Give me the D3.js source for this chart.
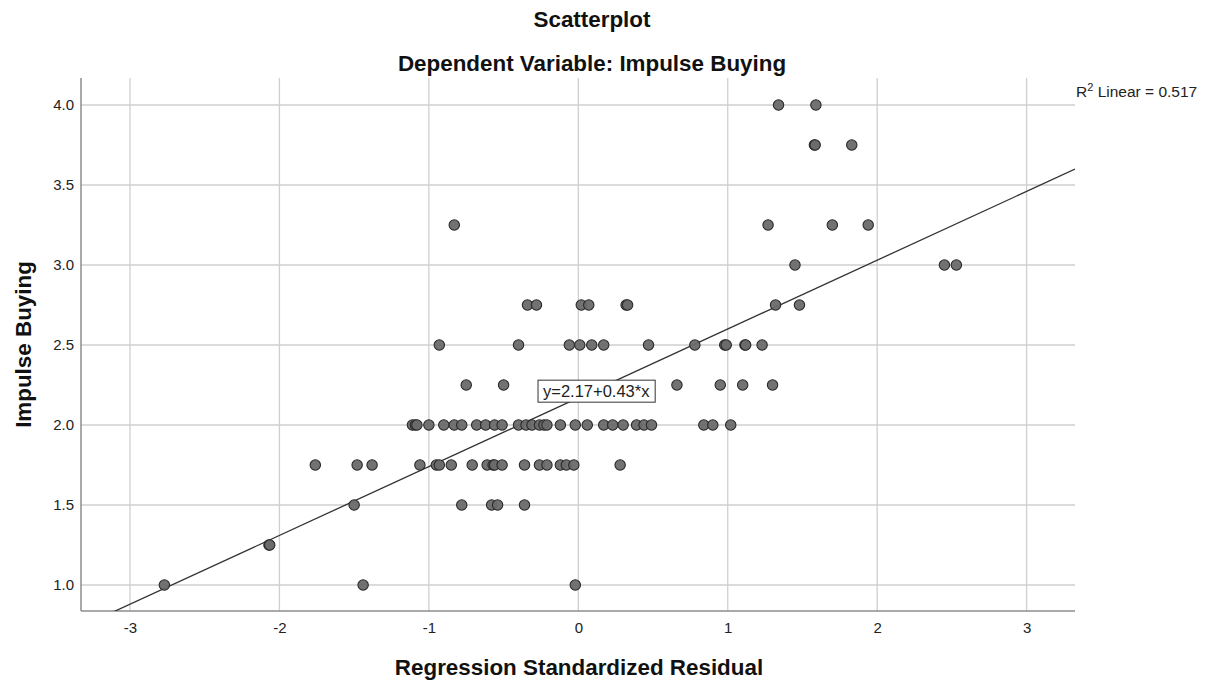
<!DOCTYPE html>
<html>
<head>
<meta charset="utf-8">
<script src="https://cdn.jsdelivr.net/npm/d3@7"></script>
<style>
  html, body { margin: 0; padding: 0; background: #fff; }
  svg { display: block; font-family: 'Liberation Sans', Arial, sans-serif; }
</style>
</head>
<body>
<svg id="chart" width="1207" height="686"></svg>
<script>
const impulseLevels = [4.0, 3.75, 3.25, 3.0, 2.75, 2.5, 2.25, 2.0, 1.75, 1.5, 1.25, 1.0];
const residualsAtLevel = [
  [1.34, 1.59],
  [1.58, 1.585, 1.83],
  [-0.83, 1.27, 1.70, 1.94],
  [1.45, 2.45, 2.53],
  [-0.34, -0.28, 0.02, 0.07, 0.32, 0.33, 1.32, 1.48],
  [-0.93, -0.40, -0.06, 0.01, 0.09, 0.17, 0.47, 0.78, 0.98, 0.99, 1.115, 1.12, 1.23],
  [-0.75, -0.50, 0.66, 0.95, 1.10, 1.30],
  [-1.11, -1.09, -1.08, -1.00, -0.90, -0.83, -0.78, -0.68, -0.62, -0.56, -0.51,
   -0.40, -0.35, -0.31, -0.26, -0.23, -0.21, -0.12, -0.02, 0.06, 0.17, 0.23, 0.30,
   0.39, 0.44, 0.49, 0.84, 0.90, 1.02],
  [-1.76, -1.48, -1.38, -1.06, -0.95, -0.93, -0.85, -0.71, -0.61, -0.57, -0.56,
   -0.51, -0.36, -0.26, -0.21, -0.12, -0.08, -0.03, 0.28],
  [-1.50, -0.78, -0.58, -0.54, -0.36],
  [-2.07, -2.065],
  [-2.77, -1.44, -0.02]
];
const xTicks = [-3, -2, -1, 0, 1, 2, 3];
const yTicks = [1.0, 1.5, 2.0, 2.5, 3.0, 3.5, 4.0];
const fitIntercept = 2.17;
const fitSlope = 0.43;
const fitR2 = 0.517;

const points = impulseLevels.flatMap((lvl, i) =>
  residualsAtLevel[i].map(r => ({ residual: r, impulse: lvl })));

const plot = { left: 81, right: 1075, top: 78, bottom: 611 };

const svg = d3.select('#chart');

const x = d3.scaleLinear().domain([-3, 3]).range([130, 1026.6]);
const y = d3.scaleLinear().domain([1, 4]).range([585, 105]);

svg.append('defs').append('clipPath').attr('id', 'plotClip')
  .append('rect')
  .attr('x', plot.left).attr('y', plot.top)
  .attr('width', plot.right - plot.left).attr('height', plot.bottom - plot.top);

// grid
const grid = svg.append('g');
grid.selectAll('.vgrid').data(xTicks).join('line')
  .attr('class', 'vgrid')
  .attr('x1', d => x(d)).attr('x2', d => x(d))
  .attr('y1', plot.top).attr('y2', plot.bottom)
  .attr('stroke', '#cfcfcf').attr('stroke-width', 1.3);
grid.selectAll('.hgrid').data(yTicks).join('line')
  .attr('class', 'hgrid')
  .attr('x1', plot.left).attr('x2', plot.right)
  .attr('y1', d => y(d)).attr('y2', d => y(d))
  .attr('stroke', '#cfcfcf').attr('stroke-width', 1.3);

// axes
const xAxis = svg.append('g')
  .attr('transform', `translate(0,${plot.bottom})`)
  .call(d3.axisBottom(x).tickValues(xTicks).tickSize(0).tickPadding(11).tickFormat(d => String(d)));
xAxis.select('.domain').remove();
xAxis.selectAll('text').attr('font-size', 15).attr('fill', '#222').attr('font-family', 'Liberation Sans, Arial, sans-serif');

const yAxis = svg.append('g')
  .attr('transform', `translate(${plot.left},0)`)
  .call(d3.axisLeft(y).tickValues(yTicks).tickSize(0).tickPadding(7).tickFormat(d3.format('.1f')));
yAxis.select('.domain').remove();
yAxis.selectAll('text').attr('font-size', 15).attr('fill', '#222').attr('font-family', 'Liberation Sans, Arial, sans-serif');

svg.append('line')
  .attr('x1', plot.left).attr('x2', plot.left)
  .attr('y1', plot.top).attr('y2', plot.bottom)
  .attr('stroke', '#8c8c8c').attr('stroke-width', 1.5);
svg.append('line')
  .attr('x1', plot.left).attr('x2', plot.right)
  .attr('y1', plot.bottom).attr('y2', plot.bottom)
  .attr('stroke', '#8c8c8c').attr('stroke-width', 1.5);

// fit line
const xDom = [x.invert(plot.left), x.invert(plot.right)];
svg.append('line')
  .attr('clip-path', 'url(#plotClip)')
  .attr('x1', x(xDom[0])).attr('y1', y(fitIntercept + fitSlope * xDom[0]))
  .attr('x2', x(xDom[1])).attr('y2', y(fitIntercept + fitSlope * xDom[1]))
  .attr('stroke', '#333').attr('stroke-width', 1.3);

// points
svg.append('g').attr('clip-path', 'url(#plotClip)')
  .selectAll('circle').data(points).join('circle')
  .attr('cx', d => x(d.residual))
  .attr('cy', d => y(d.impulse))
  .attr('r', 5.2)
  .attr('fill', '#6a6a6a')
  .attr('fill-opacity', 0.95)
  .attr('stroke', '#2a2a2a')
  .attr('stroke-width', 1.1);

// equation label
const eq = svg.append('g').attr('transform', `translate(${x(0.12)},${y(2.21)})`);
const eqText = eq.append('text')
  .attr('text-anchor', 'middle').attr('dy', '0.35em')
  .attr('font-size', 16.5).attr('fill', '#222')
  .text(`y=${fitIntercept}+${fitSlope}*x`);
const bb = eqText.node().getBBox();
eq.insert('rect', 'text')
  .attr('x', bb.x - 5).attr('y', bb.y - 2)
  .attr('width', bb.width + 10).attr('height', bb.height + 4)
  .attr('fill', '#fff').attr('stroke', '#333').attr('stroke-width', 1);

// R2 label
const r2 = svg.append('text')
  .attr('x', 1076).attr('y', 97)
  .attr('font-size', 15.5).attr('fill', '#222');
r2.append('tspan').text('R');
r2.append('tspan').attr('font-size', 11).attr('dy', -6).text('2');
r2.append('tspan').attr('dy', 6).text(` Linear = ${fitR2}`);

// titles
svg.append('text')
  .attr('x', 592).attr('y', 26.5)
  .attr('text-anchor', 'middle')
  .attr('font-size', 22.4).attr('font-weight', 'bold').attr('fill', '#111')
  .text('Scatterplot');
svg.append('text')
  .attr('x', 592).attr('y', 70.5)
  .attr('text-anchor', 'middle')
  .attr('font-size', 22.4).attr('font-weight', 'bold').attr('fill', '#111')
  .text('Dependent Variable: Impulse Buying');
svg.append('text')
  .attr('x', 579).attr('y', 675)
  .attr('text-anchor', 'middle')
  .attr('font-size', 22.4).attr('font-weight', 'bold').attr('fill', '#111')
  .text('Regression Standardized Residual');
svg.append('text')
  .attr('transform', `translate(31,${(plot.top + plot.bottom) / 2}) rotate(-90)`)
  .attr('text-anchor', 'middle')
  .attr('font-size', 22.4).attr('font-weight', 'bold').attr('fill', '#111')
  .text('Impulse Buying');
</script>
</body>
</html>
